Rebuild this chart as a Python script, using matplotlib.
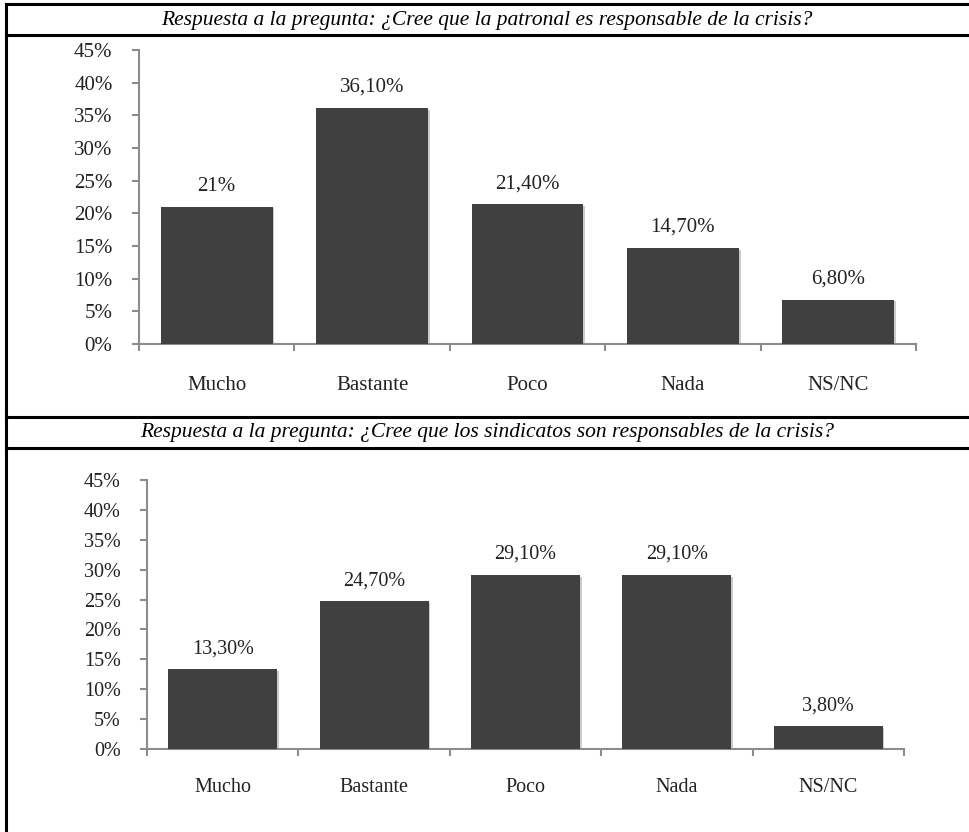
import matplotlib.pyplot as plt
from matplotlib.lines import Line2D
import matplotlib.patheffects as pe

# data
categories = ["Mucho", "Bastante", "Poco", "Nada", "NS/NC"]
patronal = [21.0, 36.1, 21.4, 14.7, 6.8]
patronal_labels = ["21%", "36,10%", "21,40%", "14,70%", "6,80%"]
sindicatos = [13.3, 24.7, 29.1, 29.1, 3.8]
sindicatos_labels = ["13,30%", "24,70%", "29,10%", "29,10%", "3,80%"]
yticks = [0, 5, 10, 15, 20, 25, 30, 35, 40, 45]

title1 = "Respuesta a la pregunta: ¿Cree que la patronal es responsable de la crisis?"
title2 = "Respuesta a la pregunta: ¿Cree que los sindicatos son responsables de la crisis?"

plt.rcParams['font.family'] = ['Liberation Serif', 'DejaVu Serif']

W, H = 969, 832
fig = plt.figure(figsize=(W / 100, H / 100), dpi=100)

def px(x, y):
    # pixel coords (from top-left) to figure fraction
    return x / W, 1 - y / H

def draw_chart(rect, values, labels, label_pad, fs):
    ax = fig.add_axes(rect)
    pos = [i + 0.5 for i in range(len(values))]
    bars = ax.bar(pos, values, width=0.72, color="#404040", zorder=3)
    for b in bars:
        b.set_path_effects([pe.SimplePatchShadow(offset=(1.2, -1.2), shadow_rgbFace="#999999", alpha=0.5),
                            pe.Normal()])
    for p, v, t in zip(pos, values, labels):
        ax.annotate(t, (p, v), xytext=(0, 8), textcoords="offset points",
                    ha="center", va="bottom", fontsize=fs, color="#222222")
    ax.set_xlim(0, len(values))
    ax.set_ylim(0, 45)
    ax.set_yticks(yticks)
    ax.set_yticklabels([f"{t}%" for t in yticks])
    ax.set_xticks(pos)
    ax.set_xticklabels(categories)
    ax.set_xticks(range(len(values) + 1), minor=True)
    for s in ["top", "right"]:
        ax.spines[s].set_visible(False)
    for s in ["left", "bottom"]:
        ax.spines[s].set_color("#8c8c8c")
        ax.spines[s].set_linewidth(1.5)
    ax.tick_params(axis="y", length=5, width=1.5, color="#8c8c8c", pad=14,
                   labelsize=fs, labelcolor="#222222")
    ax.tick_params(axis="x", which="major", length=0, pad=label_pad,
                   labelsize=fs, labelcolor="#222222")
    ax.tick_params(axis="x", which="minor", length=5, width=1.5, color="#8c8c8c")
    return ax

# top chart: axis x 139-916, y 50-344 px
x0, y0 = px(139, 344)
x1, y1 = px(916, 50)
draw_chart([x0, y0, x1 - x0, y1 - y0], patronal, patronal_labels, 23, 15)

# bottom chart: axis x 147-904, y 480-749 px
x0, y0 = px(147, 749)
x1, y1 = px(904, 480)
draw_chart([x0, y0, x1 - x0, y1 - y0], sindicatos, sindicatos_labels, 21, 14.5)

# table borders
lw = 2.2
for yy in [4, 35, 417, 448]:
    fig.add_artist(Line2D([6 / W, 1], [1 - yy / H, 1 - yy / H], color="black", lw=lw))
fig.add_artist(Line2D([6 / W, 6 / W], [1 - 4 / H, 0], color="black", lw=lw))

fig.text(*px(487, 20), title1, ha="center", va="center", fontsize=15.5, style="italic")
fig.text(*px(487, 432), title2, ha="center", va="center", fontsize=15.5, style="italic")

fig.savefig("out.png", dpi=100)
